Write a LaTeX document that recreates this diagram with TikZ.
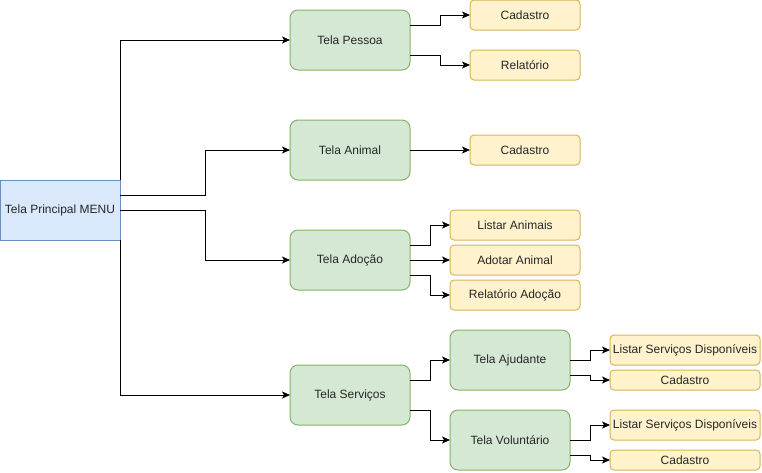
\documentclass[tikz,border=0pt]{standalone}
\usepackage{fontspec}
\setmainfont{Liberation Sans}
\usetikzlibrary{positioning,arrows.meta}

\definecolor{menufill}{HTML}{DAE8FC}
\definecolor{menudraw}{HTML}{6C8EBF}
\definecolor{telafill}{HTML}{D5E8D4}
\definecolor{teladraw}{HTML}{82B366}
\definecolor{itemfill}{HTML}{FFF2CC}
\definecolor{itemdraw}{HTML}{D6B656}

\tikzset{
  box/.style={draw, line width=1pt, inner sep=0pt, outer sep=0pt,
    font=\fontsize{12}{14}\selectfont, text=black!85},
  menu/.style={box, fill=menufill, draw=menudraw,
    minimum width=120pt, minimum height=60pt},
  tela/.style={box, fill=telafill, draw=teladraw, rounded corners=8pt,
    minimum width=120pt, minimum height=60pt},
  item/.style={box, fill=itemfill, draw=itemdraw, rounded corners=4pt,
    minimum width=110pt, minimum height=30pt},
  arr/.style={-{Stealth[length=8pt,width=7pt,inset=2pt]}, line width=1pt},
}

\begin{document}
\begin{tikzpicture}[x=1pt, y=-1pt]

  \useasboundingbox (0,0) rectangle (762,472);

  % Define nodes

  % menu
  \node[menu] (menu) at (60,210) {Tela Principal MENU};

  % telas
  \node[tela] (pessoa) at (350,40) {Tela Pessoa};
  \node[tela] (animal) at (350,150) {Tela Animal};
  \node[tela] (adocao) at (350,260) {Tela Adoção};
  \node[tela] (servicos) at (350,395) {Tela Serviços};

  % pessoa
  \node[item, right=60pt of pessoa, yshift=25pt] (cad_p) {Cadastro};
  \node[item, right=60pt of pessoa, yshift=-25pt] (rel_p) {Relatório};

  % animal
  \node[item, right=60pt of animal] (cad_a) {Cadastro};

  % adocao
  \node[item, minimum width=130pt, right=40pt of adocao, yshift=35pt] (listar) {Listar Animais};
  \node[item, minimum width=130pt, right=40pt of adocao] (adotar) {Adotar Animal};
  \node[item, minimum width=130pt, right=40pt of adocao, yshift=-35pt] (rel_ad) {Relatório Adoção};

  % servicos
  \node[tela, right=40pt of servicos, yshift=35pt] (ajud) {Tela Ajudante};
  \node[tela, right=40pt of servicos, yshift=-45pt] (volunt) {Tela Voluntário};

  % ajudante and voluntario
  \node[item, minimum width=150pt, right=40pt of ajud, yshift=10pt] (serv_aj) {Listar Serviços Disponíveis};
  \node[item, minimum width=150pt, minimum height=20pt, right=40pt of ajud, yshift=-20pt] (cad_aj) {Cadastro};
  \node[item, minimum width=150pt, right=40pt of volunt, yshift=15pt] (serv_v) {Listar Serviços Disponíveis};
  \node[item, minimum width=150pt, minimum height=20pt, right=40pt of volunt, yshift=-20pt] (cad_v) {Cadastro};

  % Edges
  \draw[arr] (menu.north east) |- (pessoa);
  \draw[arr] ([yshift=15pt]menu.east) -- ++(85,0) |- (animal);
  \draw[arr] (menu.east) -- ++(85,0) |- (adocao);
  \draw[arr] (menu.south east) |- (servicos);

  \draw[arr] ([yshift=15pt]pessoa.east) -- ++(30,0) |- (cad_p);
  \draw[arr] ([yshift=-15pt]pessoa.east) -- ++(30,0) |- (rel_p);
  \draw[arr] (animal) -- (cad_a);

  \draw[arr] ([yshift=15pt]adocao.east) -- ++(20,0) |- (listar);
  \draw[arr] (adocao) -- (adotar);
  \draw[arr] ([yshift=-15pt]adocao.east) -- ++(20,0) |- (rel_ad);

  \draw[arr] ([yshift=15pt]servicos.east) -- ++(20,0) |- (ajud);
  \draw[arr] ([yshift=-15pt]servicos.east) -- ++(20,0) |- (volunt);

  \draw[arr] (ajud.east) -- ++(20,0) |- (serv_aj);
  \draw[arr] ([yshift=-15pt]ajud.east) -- ++(20,0) |- (cad_aj);
  \draw[arr] (volunt.east) -- ++(20,0) |- (serv_v);
  \draw[arr] ([yshift=-15pt]volunt.east) -- ++(20,0) |- (cad_v);

\end{tikzpicture}
\end{document}
